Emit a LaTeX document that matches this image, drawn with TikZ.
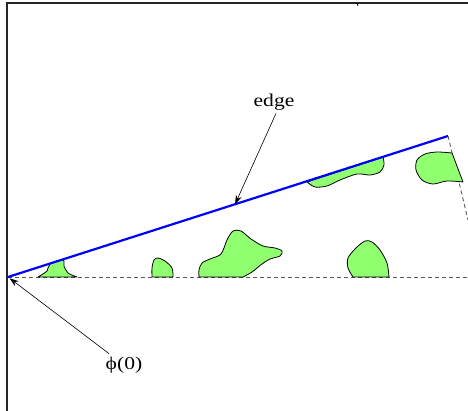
\documentclass[tikz,border=0pt]{standalone}
\usepackage{fontspec}
\setmainfont{Liberation Serif}
\usepackage{graphicx}
\usepackage{tikz}
\usetikzlibrary{arrows.meta,positioning,calc}
\usepackage{xcolor}
\definecolor{blobgreen}{RGB}{144,255,112}
\newcommand{\widetext}[1]{\scalebox{1.2}[1]{#1}}

\begin{document}
\begin{tikzpicture}[x=1pt, y=-1pt,
    frame/.style={line width=1.4pt, black!85},
    blob/.style={draw=black, fill=blobgreen, line width=0.8pt, line join=round},
    ray/.style={dash pattern=on 4pt off 3pt, line width=0.9pt, black!65},
    edgeline/.style={line width=2.2pt, blue},
    arr/.style={-{Stealth[length=9pt, width=6pt]}, line width=0.6pt},
    lbl/.style={font=\fontsize{18}{21}\selectfont, inner sep=3pt},
]
    \useasboundingbox (0,0) rectangle (468,411);
    % frame
    \draw[frame] (468,3) -- (7,3) -- (7,411);
    \draw[line width=0.8pt] (357,3) -- (358,6);
    % rays from phi(0)
    \coordinate (origin) at (8,277);
    \coordinate (corner) at (448,136);
    \draw[ray] (origin) -- (468,277);
    \draw[ray] (corner) -- (468,220);
    % green blobs
    \draw[blob] (38,277) -- (77,277) plot[smooth] coordinates {(77,277) (68,273) (64,266) (63,260) (50,264) (47,271) (38,277)} -- cycle;
    \draw[blob] (152,277) -- (173,277) plot[smooth] coordinates {(173,277) (172,268) (165,261) (158,258) (154,260) (152,268) (152,277)} -- cycle;
    \draw[blob] (199,277) -- (243,277) plot[smooth] coordinates {(243,277) (252,272) (262,264) (270,259) (280,256) (282,251) (275,248) (263,246) (251,239) (241,231) (233,231) (227,240) (221,254) (210,259) (202,263) (199,270) (199,277)} -- cycle;
    \draw[blob] (353,277) -- (389,277) plot[smooth] coordinates {(389,277) (387,263) (380,250) (372,242) (365,241) (356,248) (348,258) (348,268) (353,277)} -- cycle;
    \draw[blob] (307,181) -- (383,157) plot[smooth] coordinates {(383,157) (384,165) (380,172) (370,175) (357,174) (340,180) (327,186) (315,187) (307,182)} -- cycle;
    \draw[blob] (452,153) -- (463,182) plot[smooth] coordinates {(463,182) (447,181) (433,184) (422,180) (416,170) (417,160) (425,154) (437,152) (452,153)} -- cycle;
    % the edge
    \draw[edgeline] (origin) -- coordinate[pos=0.516] (edgept) (corner);
    % labels
    \node[lbl] (edgelabel) at (274,102) {\widetext{edge}};
    \node[lbl] (philabel) at (124,365) {\widetext{ϕ(0)}};
    \draw[arr] ([xshift=2pt]edgelabel.south) -- (edgept);
    \draw[arr, shorten >=2pt] (philabel) -- (origin);
\end{tikzpicture}
\end{document}
